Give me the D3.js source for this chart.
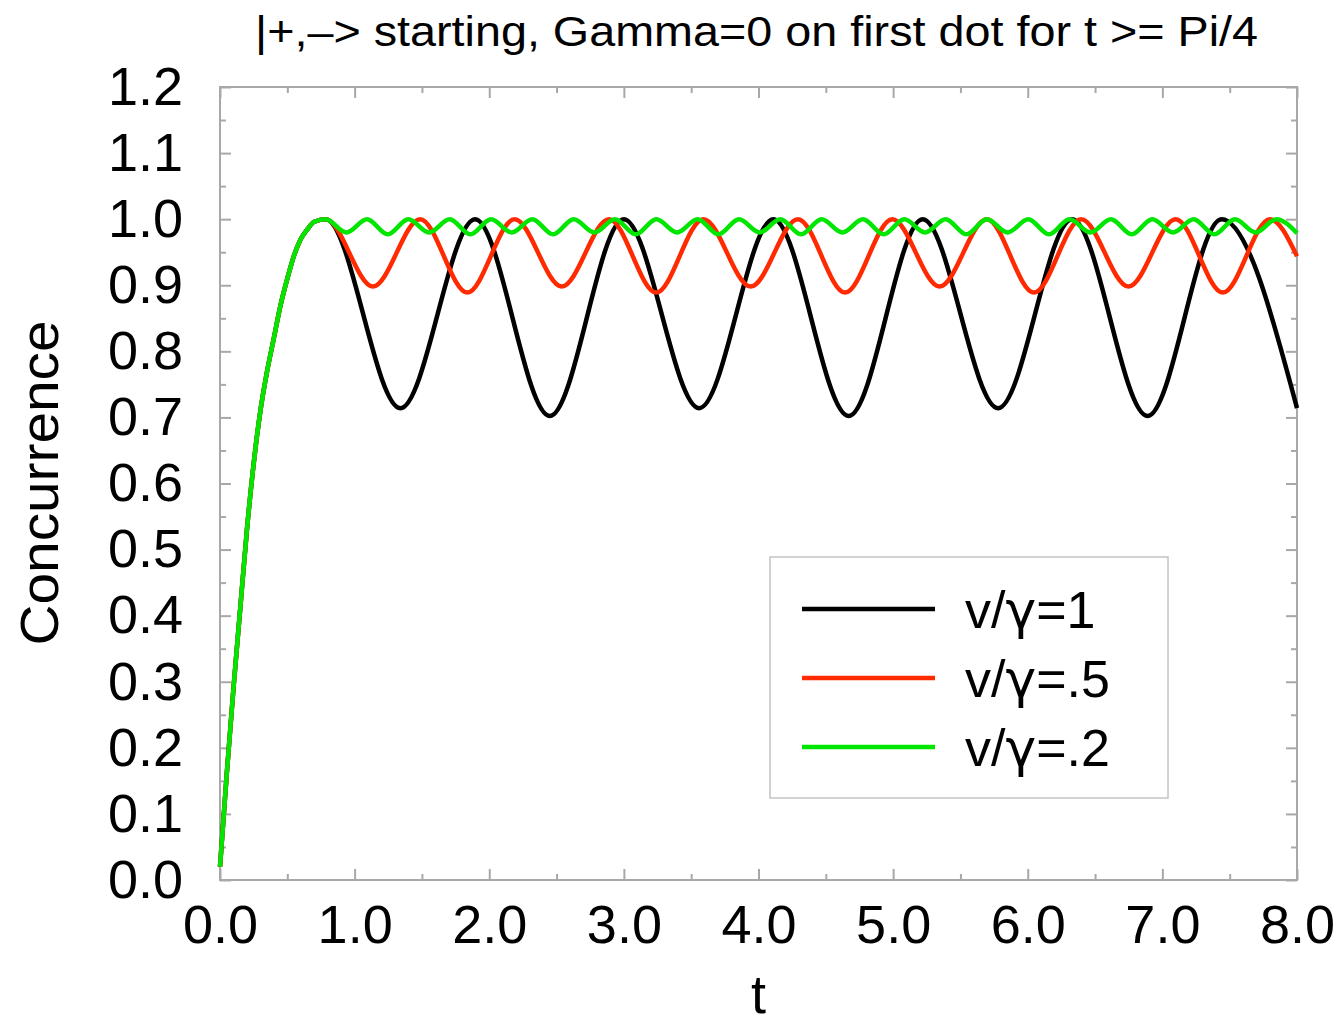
<!DOCTYPE html>
<html>
<head>
<meta charset="utf-8">
<script src="https://cdn.jsdelivr.net/npm/d3@7"></script>
<style>
  body { margin: 0; background: #fff; }
  svg text { font-family: "Liberation Sans", Arial, Helvetica, sans-serif; fill: #000; }
</style>
</head>
<body>
<script>
// concurrence vs t, three coupling ratios

// shared rise from t=0 up to Pi/4 (all three curves lie on top of each other)
var riseT = [0, 0.05, 0.1, 0.15, 0.2, 0.25, 0.3, 0.35, 0.4, 0.45, 0.5, 0.55, 0.6, 0.65, 0.7];
var riseC = [0.02, 0.16, 0.29, 0.41, 0.53, 0.63, 0.71, 0.77, 0.82, 0.87, 0.91, 0.945, 0.97, 0.985, 0.996];

// turning points, v/gamma = 1
var blackT = [0.785, 1.34, 1.895, 2.45, 3.0, 3.56, 4.11, 4.67, 5.22, 5.78, 6.33, 6.89, 7.44, 8.0];
var blackC = [1.0, 0.714, 1.0, 0.702, 1.0, 0.714, 1.0, 0.702, 1.0, 0.714, 1.0, 0.702, 1.0, 0.714];

// v/gamma = .5
var redT = [0.785, 1.136, 1.487, 1.837, 2.188, 2.539, 2.89, 3.24, 3.591, 3.942, 4.293,
            4.643, 4.994, 5.345, 5.696, 6.046, 6.397, 6.748, 7.099, 7.449, 7.8, 8.0];
var redC = [1.0, 0.898, 1.0, 0.889, 1.0, 0.898, 1.0, 0.889, 1.0, 0.898, 1.0,
            0.889, 1.0, 0.898, 1.0, 0.889, 1.0, 0.898, 1.0, 0.889, 1.0, 0.944];

// v/gamma = .2
var greenT = [0.785, 0.939, 1.092, 1.246, 1.399, 1.553, 1.706, 1.86, 2.013, 2.167, 2.32,
              2.474, 2.627, 2.781, 2.934, 3.088, 3.241, 3.395, 3.548, 3.702, 3.855, 4.009,
              4.162, 4.316, 4.469, 4.623, 4.776, 4.93, 5.083, 5.237, 5.39, 5.544, 5.697,
              5.851, 6.004, 6.158, 6.311, 6.465, 6.618, 6.772, 6.925, 7.079, 7.232, 7.386,
              7.539, 7.693, 7.846, 8.0];
var greenC = [1.0, 0.980, 1.0, 0.977, 1.0, 0.980, 1.0, 0.977, 1.0, 0.980, 1.0,
              0.977, 1.0, 0.980, 1.0, 0.977, 1.0, 0.980, 1.0, 0.977, 1.0, 0.980,
              1.0, 0.977, 1.0, 0.980, 1.0, 0.977, 1.0, 0.980, 1.0, 0.977, 1.0,
              0.980, 1.0, 0.977, 1.0, 0.980, 1.0, 0.977, 1.0, 0.980, 1.0, 0.977,
              1.0, 0.980, 1.0, 0.979];

// legend labels: "v/" + gamma + suffix
var seriesSuffix = ["=1", "=.5", "=.2"];
var seriesColors = ["#000000", "#ff2a00", "#00e600"];

var xMajor = [0, 1, 2, 3, 4, 5, 6, 7, 8];
var xMinor = [0.5, 1.5, 2.5, 3.5, 4.5, 5.5, 6.5, 7.5];
var yMajor = [0, 0.1, 0.2, 0.3, 0.4, 0.5, 0.6, 0.7, 0.8, 0.9, 1.0, 1.1, 1.2];
var yMinor = [0.05, 0.15, 0.25, 0.35, 0.45, 0.55, 0.65, 0.75, 0.85, 0.95, 1.05, 1.15];

var titleText = "|+,\u2013> starting, Gamma=0 on first dot for t >= Pi/4";

// plot box (window.top is read-only, so don't call it "top")
var width = 1343,
    height = 1023,
    plotLeft = 220, plotRight = 1297,
    plotTop = 87, plotBottom = 880,
    axisColor = "#a8a8a8";

var x = d3.scaleLinear().domain([0, 8]).range([plotLeft, plotRight]);
var y = d3.scaleLinear().domain([0, 1.2]).range([plotBottom, plotTop]);

var svg = d3.select("body").append("svg")
    .attr("width", width)
    .attr("height", height);

// glue the rise onto each set of turning points
function build(ts, cs) {
    var pts = riseT.map(function(t, i) { return [t, riseC[i]]; });
    ts.forEach(function(t, i) { pts.push([t, cs[i]]); });
    return pts;
}
var series = [build(blackT, blackC), build(redT, redC), build(greenT, greenC)];

// frame
svg.append("rect")
    .attr("x", plotLeft).attr("y", plotTop)
    .attr("width", plotRight - plotLeft).attr("height", plotBottom - plotTop)
    .attr("fill", "none")
    .attr("stroke", axisColor)
    .attr("stroke-width", 2);

// ticks on all four sides, pointing inward
function tickAxis(axis, tx, ty, vals, size, labels) {
    var g = svg.append("g")
        .attr("transform", "translate(" + tx + "," + ty + ")")
        .call(axis.tickValues(vals).tickSize(-size)
              .tickFormat(labels ? d3.format(".1f") : ""));
    g.select(".domain").remove();
    g.selectAll(".tick line").attr("stroke", axisColor).attr("stroke-width", 2);
    return g;
}

var gx = tickAxis(d3.axisBottom(x).tickPadding(25), 0, plotBottom, xMajor, 11, true);
tickAxis(d3.axisBottom(x), 0, plotBottom, xMinor, 6, false);
tickAxis(d3.axisTop(x), 0, plotTop, xMajor, 11, false);
tickAxis(d3.axisTop(x), 0, plotTop, xMinor, 6, false);
var gy = tickAxis(d3.axisLeft(y).tickPadding(37), plotLeft, 0, yMajor, 11, true);
tickAxis(d3.axisLeft(y), plotLeft, 0, yMinor, 6, false);
tickAxis(d3.axisRight(y), plotRight, 0, yMajor, 11, false);
tickAxis(d3.axisRight(y), plotRight, 0, yMinor, 6, false);

gx.selectAll(".tick text").attr("font-size", 54).attr("fill", "#000")
    .style("font-family", "'Liberation Sans', Arial, sans-serif");
gy.selectAll(".tick text").attr("font-size", 54).attr("fill", "#000")
    .style("font-family", "'Liberation Sans', Arial, sans-serif");

// curves
var line = d3.line()
    .x(function(d) { return x(d[0]); })
    .y(function(d) { return y(d[1]); })
    .curve(d3.curveMonotoneX);

svg.append("g").selectAll("path")
    .data(series)
    .enter().append("path")
    .attr("d", line)
    .attr("fill", "none")
    .attr("stroke", function(d, i) { return seriesColors[i]; })
    .attr("stroke-width", 4.5)
    .attr("stroke-linejoin", "round");

// legend
var legend = svg.append("g");
legend.append("rect")
    .attr("x", 770).attr("y", 557)
    .attr("width", 398).attr("height", 241)
    .attr("fill", "#fff")
    .attr("stroke", "#c4c4c4")
    .attr("stroke-width", 1.5);

var item = legend.selectAll("g.item")
    .data(seriesSuffix)
    .enter().append("g")
    .attr("class", "item")
    .attr("transform", function(d, i) { return "translate(0," + (609 + i * 69) + ")"; });
item.append("line")
    .attr("x1", 802).attr("x2", 935)
    .attr("stroke", function(d, i) { return seriesColors[i]; })
    .attr("stroke-width", 4.5);
var label = item.append("text")
    .attr("x", 965)
    .attr("dy", "0.36em")
    .attr("font-size", 52);
label.append("tspan").text("v/");
// DejaVu's gamma looks more like the reference glyph
label.append("tspan").style("font-family", "'DejaVu Sans', sans-serif").text("\u03b3");
label.append("tspan").text(function(d) { return d; });

// titles
svg.append("text")
    .attr("x", 255).attr("y", 46)
    .attr("font-size", 42)
    .attr("textLength", 1003)
    .attr("lengthAdjust", "spacingAndGlyphs")
    .text(titleText);

svg.append("text")
    .attr("x", x(4)).attr("y", 1013)
    .attr("text-anchor", "middle")
    .attr("font-size", 54)
    .text("t");

svg.append("text")
    .attr("transform", "translate(58," + 483 + ") rotate(-90)")
    .attr("text-anchor", "middle")
    .attr("font-size", 54)
    .attr("textLength", 325)
    .attr("lengthAdjust", "spacingAndGlyphs")
    .text("Concurrence");
</script>
</body>
</html>
